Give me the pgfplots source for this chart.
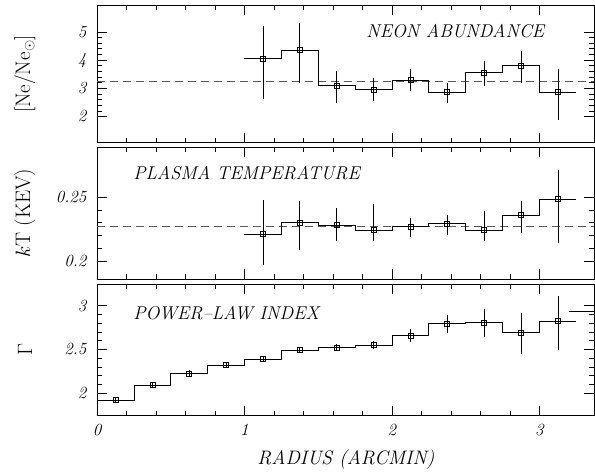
\documentclass[border=0pt]{standalone}
\usepackage{fontspec}
\usepackage{pgfplots}
\usepackage{pgfplotstable}
\pgfplotsset{compat=1.18}

\newcommand{\tl}{\fontsize{17}{20}\selectfont\itshape\addfontfeatures{FakeStretch=1.3}}

\pgfplotstableread{
x y ep em
1.125 4.06 1.15 1.44
1.375 4.35 0.97 1.15
1.625 3.09 0.52 0.60
1.875 2.96 0.39 0.41
2.125 3.29 0.38 0.39
2.375 2.87 0.33 0.38
2.625 3.55 0.41 0.47
2.875 3.80 0.53 0.62
3.125 2.87 0.80 0.99
}\neon

\pgfplotstableread{
x y ep em
1.125 0.2210 0.0269 0.0241
1.375 0.2301 0.0172 0.0215
1.625 0.2283 0.0131 0.0124
1.875 0.2243 0.0204 0.0084
2.125 0.2269 0.0066 0.0078
2.375 0.2293 0.0068 0.0089
2.625 0.2243 0.0149 0.0084
2.875 0.2361 0.0112 0.0139
3.125 0.2484 0.0229 0.0340
}\temp

\pgfplotstableread{
x y ep em
0.125 1.924 0.035 0.035
0.375 2.095 0.035 0.035
0.625 2.228 0.035 0.035
0.875 2.323 0.035 0.035
1.125 2.392 0.035 0.035
1.375 2.494 0.035 0.035
1.625 2.525 0.040 0.040
1.875 2.551 0.045 0.045
2.125 2.657 0.073 0.077
2.375 2.794 0.096 0.104
2.625 2.810 0.152 0.164
2.875 2.692 0.221 0.243
3.125 2.827 0.287 0.333
}\gam

\tikzset{ttl/.style={font=\fontsize{18.5}{22}\selectfont\itshape}}

\pgfplotsset{
  panel/.style={
    scale only axis, width=497pt,
    xmin=0, xmax=3.37,
    xtick={0,1,2,3}, minor x tick num=4,
    tick pos=both, tick align=inside,
    major tick length=10pt, minor tick length=5pt,
    every tick/.style={black, line width=0.6pt},
    axis line style={line width=0.8pt},
    yticklabel style={xshift=-7pt},
    xticklabel style={yshift=-5pt},
    ylabel style={at={(axis description cs:-0.145,0.5)}, anchor=center, font=\fontsize{21}{24}\selectfont},
    clip=false,
  },
  stp/.style={const plot, black, line width=0.7pt, mark=none},
  pts/.style={only marks, mark=square, mark size=2.5pt, mark options={black, line width=0.6pt},
    error bars/.cd, y dir=both, y explicit, error mark=none, error bar style={black, line width=0.7pt}},
}

\begin{document}
\begin{tikzpicture}
\useasboundingbox (0,0) rectangle (595pt,473pt);

% top panel
\begin{axis}[panel, at={(97pt,330.3pt)}, anchor=south west, height=137.4pt,
  ymin=1.07, ymax=5.94, ytick={2,3,4,5}, minor y tick num=4,
  yticklabels={{\tl 2},{\tl 3},{\tl 4},{\tl 5}},
  xticklabels={}, ylabel={[Ne/Ne$_\odot$]}]
\addplot[black!65, dashed, dash pattern=on 8pt off 5pt, line width=0.8pt] coordinates {(0,3.23) (3.37,3.23)};
\addplot[stp] coordinates {(1.0,4.06) (1.25,4.35) (1.5,3.09) (1.75,2.96) (2.0,3.29) (2.25,2.87) (2.5,3.55) (2.75,3.80) (3.0,2.87) (3.25,2.87)};
\addplot[pts] table[x=x, y=y, y error plus=ep, y error minus=em] {\neon};
\node[ttl, anchor=east] at (rel axis cs:0.907,0.812) {NEON ABUNDANCE};
\end{axis}

% middle panel
\begin{axis}[panel, at={(97pt,193.7pt)}, anchor=south west, height=132pt,
  ymin=0.1856, ymax=0.2892, ytick={0.2,0.25}, minor y tick num=4,
  yticklabels={{\tl 0.2},{\tl 0.25}},
  xticklabels={}, ylabel={$k$T (KEV)}]
\addplot[black!65, dashed, dash pattern=on 8pt off 5pt, line width=0.8pt] coordinates {(0,0.2275) (3.37,0.2275)};
\addplot[stp] coordinates {(1.0,0.2210) (1.25,0.2301) (1.5,0.2283) (1.75,0.2243) (2.0,0.2269) (2.25,0.2293) (2.5,0.2243) (2.75,0.2361) (3.0,0.2484) (3.25,0.2484)};
\addplot[pts] table[x=x, y=y, y error plus=ep, y error minus=em] {\temp};
\node[ttl, anchor=west] at (rel axis cs:0.066,0.803) {PLASMA TEMPERATURE};
\end{axis}

% bottom panel
\begin{axis}[panel, at={(97pt,57.3pt)}, anchor=south west, height=131.7pt,
  ymin=1.744, ymax=3.248, ytick={2,2.5,3}, minor y tick num=4,
  yticklabels={{\tl 2},{\tl 2.5},{\tl 3}},
  xticklabels={{\tl 0},{\tl 1},{\tl 2},{\tl 3}},
  ylabel={$\Gamma$},
  xlabel={RADIUS (ARCMIN)},
  xlabel style={at={(axis description cs:0.501,0)}, anchor=center, yshift=-44pt, font=\fontsize{19.5}{22}\selectfont\itshape}]
\addplot[stp] coordinates {(0,1.924) (0.25,2.095) (0.5,2.228) (0.75,2.323) (1.0,2.392) (1.25,2.494) (1.5,2.525) (1.75,2.551) (2.0,2.657) (2.25,2.794) (2.5,2.810) (2.75,2.692) (3.0,2.827) (3.25,2.827)};
\addplot[black, line width=0.7pt] coordinates {(3.2,2.93) (3.37,2.93)};
\addplot[pts] table[x=x, y=y, y error plus=ep, y error minus=em] {\gam};
\node[ttl, anchor=west] at (rel axis cs:0.066,0.778) {POWER\textendash LAW INDEX};
\end{axis}
\end{tikzpicture}
\end{document}
